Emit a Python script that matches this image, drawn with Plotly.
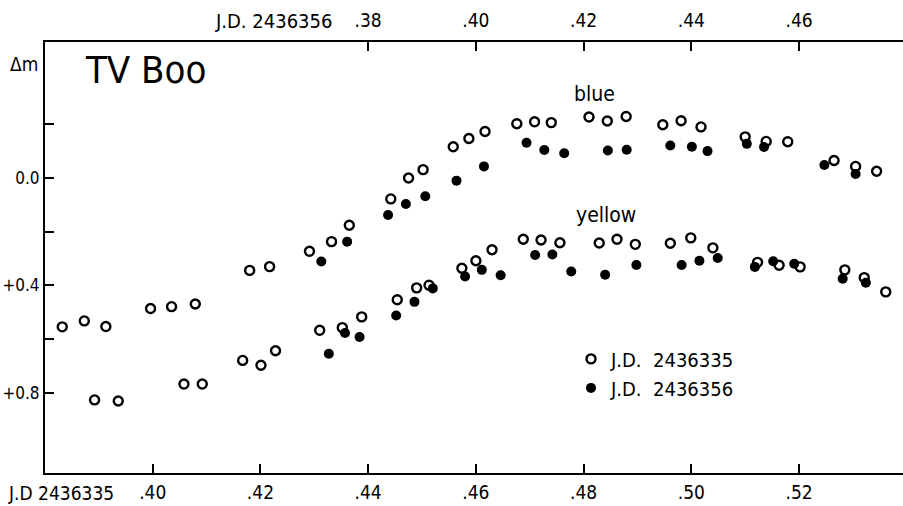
import plotly.graph_objects as go

# JD 2436335 (open circles) - bottom axis, fractional day
blue_open_x = [0.3832, 0.3873, 0.3913, 0.3996, 0.4035, 0.4079, 0.4180, 0.4217, 0.4291, 0.4332,
               0.4365, 0.4442, 0.4475, 0.4502, 0.4558, 0.4587, 0.4617, 0.4676, 0.4709, 0.4740,
               0.4810, 0.4844, 0.4879, 0.4947, 0.4981, 0.5018, 0.5100, 0.5139, 0.5179, 0.5265,
               0.5305, 0.5344]
blue_open_y = [0.554, 0.532, 0.553, 0.486, 0.479, 0.469, 0.344, 0.330, 0.273, 0.237,
               0.176, 0.078, 0.000, -0.031, -0.116, -0.147, -0.173, -0.202, -0.209, -0.206,
               -0.227, -0.212, -0.229, -0.198, -0.213, -0.190, -0.153, -0.136, -0.135, -0.065,
               -0.043, -0.025]

yellow_open_x = [0.3892, 0.3936, 0.4058, 0.4092, 0.4167, 0.4201, 0.4228, 0.4310, 0.4352, 0.4388,
                 0.4454, 0.4490, 0.4513, 0.4574, 0.4600, 0.4630, 0.4688, 0.4721, 0.4756, 0.4829,
                 0.4862, 0.4896, 0.4961, 0.4999, 0.5040, 0.5123, 0.5163, 0.5202, 0.5285, 0.5321,
                 0.5361]
yellow_open_y = [0.826, 0.830, 0.767, 0.767, 0.679, 0.697, 0.643, 0.567, 0.557, 0.517,
                 0.453, 0.409, 0.399, 0.336, 0.308, 0.267, 0.228, 0.231, 0.241, 0.242,
                 0.228, 0.247, 0.243, 0.223, 0.260, 0.314, 0.325, 0.331, 0.342, 0.371,
                 0.424]

# JD 2436356 (filled circles) - top axis, fractional day
blue_filled_x = [0.3713, 0.3761, 0.3837, 0.3870, 0.3906, 0.3964, 0.4015, 0.4094, 0.4127, 0.4164,
                 0.4245, 0.4280, 0.4361, 0.4401, 0.4430, 0.4503, 0.4535, 0.4647, 0.4705]
blue_filled_y = [0.311, 0.237, 0.138, 0.097, 0.068, 0.010, -0.043, -0.131, -0.104, -0.092,
                 -0.102, -0.105, -0.121, -0.116, -0.100, -0.127, -0.115, -0.048, -0.015]

yellow_filled_x = [0.3727, 0.3757, 0.3784, 0.3852, 0.3886, 0.3920, 0.3980, 0.4011, 0.4046, 0.4110,
                   0.4142, 0.4177, 0.4240, 0.4298, 0.4382, 0.4415, 0.4449, 0.4518, 0.4552, 0.4591,
                   0.4681, 0.4724]
yellow_filled_y = [0.654, 0.577, 0.592, 0.512, 0.461, 0.411, 0.367, 0.342, 0.362, 0.287,
                   0.285, 0.348, 0.360, 0.324, 0.324, 0.308, 0.298, 0.331, 0.310, 0.319,
                   0.375, 0.390]

bottom_ticks = [0.40, 0.42, 0.44, 0.46, 0.48, 0.50, 0.52]
bottom_labels = [".40", ".42", ".44", ".46", ".48", ".50", ".52"]
top_ticks = [0.38, 0.40, 0.42, 0.44, 0.46]
top_labels = [".38", ".40", ".42", ".44", ".46"]
y_ticks = [-0.2, 0.0, 0.2, 0.4, 0.6, 0.8]
y_labels = ["", "0.0", "", "+0.4", "", "+0.8"]

FONT = "DejaVu Sans Condensed, Liberation Sans Narrow, DejaVu Sans, sans-serif"
FS = 19

open_marker = dict(symbol="circle-open", size=9, color="black", line=dict(width=2.4, color="black"))
filled_marker = dict(symbol="circle", size=10, color="black", line=dict(width=0))

fig = go.Figure()
fig.add_trace(go.Scatter(x=blue_open_x, y=blue_open_y, mode="markers", marker=open_marker,
                         name="J.D.  2436335", legendgroup="a", showlegend=True))
fig.add_trace(go.Scatter(x=yellow_open_x, y=yellow_open_y, mode="markers", marker=open_marker,
                         name="J.D.  2436335", legendgroup="a", showlegend=False))
fig.add_trace(go.Scatter(x=blue_filled_x, y=blue_filled_y, mode="markers", marker=filled_marker,
                         xaxis="x2", name="J.D.  2436356", legendgroup="b", showlegend=True))
fig.add_trace(go.Scatter(x=yellow_filled_x, y=yellow_filled_y, mode="markers", marker=filled_marker,
                         xaxis="x2", name="J.D.  2436356", legendgroup="b", showlegend=False))

axis_common = dict(showgrid=False, zeroline=False, showline=True, linecolor="black", linewidth=2,
                   ticks="inside", tickcolor="black", tickwidth=2, ticklen=9, automargin=False)

fig.update_layout(
    width=903, height=506,
    margin=dict(l=45, r=0, t=42, b=33),
    paper_bgcolor="white", plot_bgcolor="white",
    font=dict(family=FONT, color="black"),
    xaxis=dict(range=[0.38, 0.5393], tickvals=bottom_ticks, ticktext=bottom_labels,
               ticklabelstandoff=1, tickfont=dict(family=FONT, size=FS, color="black"),
               **axis_common),
    xaxis2=dict(range=[0.32, 0.4793], overlaying="x", side="top", tickvals=top_ticks,
                ticktext=top_labels, ticklabelstandoff=5,
                tickfont=dict(family=FONT, size=FS, color="black"), **axis_common),
    yaxis=dict(range=[1.098, -0.506], tickvals=y_ticks, ticktext=y_labels,
               tickfont=dict(family=FONT, size=17, color="black"), **axis_common),
    showlegend=True,
    legend=dict(x=(571 - 45) / 858, y=0.31, xanchor="left", yanchor="top", bgcolor="rgba(0,0,0,0)",
                font=dict(family=FONT, size=20, color="black"), itemwidth=30,
                tracegroupgap=0),
    annotations=[
        dict(text="TV Boo", xref="paper", yref="paper", x=(83 - 45) / 858, y=(473 - 70) / 431,
             xanchor="left", yanchor="middle", showarrow=False,
             font=dict(family=FONT, size=38, color="black")),
        dict(text="Δm", xref="paper", yref="paper", x=-5 / 858, y=(473 - 64) / 431,
             xanchor="right", yanchor="middle", showarrow=False,
             font=dict(family=FONT, size=19, color="black")),
        dict(text="blue", xref="paper", yref="paper", x=(594 - 45) / 858, y=(473 - 94) / 431,
             xanchor="center", yanchor="middle", showarrow=False,
             font=dict(family=FONT, size=21, color="black")),
        dict(text="yellow", xref="paper", yref="paper", x=(606 - 45) / 858, y=(473 - 215) / 431,
             xanchor="center", yanchor="middle", showarrow=False,
             font=dict(family=FONT, size=21, color="black")),
        dict(text="J.D. 2436356", xref="paper", yref="paper", x=(273 - 45) / 858, y=1 + 21 / 431,
             xanchor="center", yanchor="middle", showarrow=False,
             font=dict(family=FONT, size=20, color="black")),
        dict(text="J.D 2436335", xref="paper", yref="paper", x=(61 - 45) / 858, y=-20 / 431,
             xanchor="center", yanchor="middle", showarrow=False,
             font=dict(family=FONT, size=FS, color="black")),
    ],
)

fig.write_html("out.html")
